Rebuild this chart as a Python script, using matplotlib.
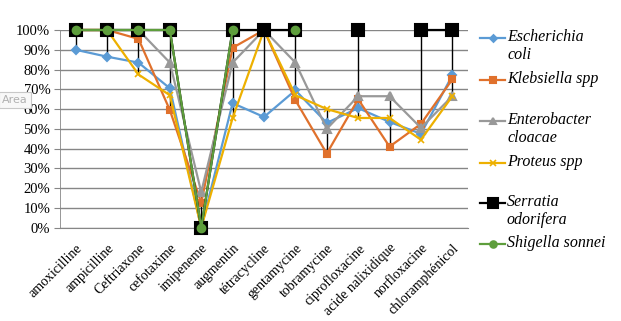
import numpy as np
import matplotlib.pyplot as plt
from matplotlib.lines import Line2D
from matplotlib.ticker import PercentFormatter

nan = np.nan
antibiotics = ['amoxicilline', 'ampicilline', 'Ceftriaxone', 'cefotaxime', 'imipeneme',
               'augmentin', 'tétracycline', 'gentamycine', 'tobramycine', 'ciprofloxacine',
               'acide nalixidique', 'norfloxacine', 'chloramphénicol']

e_coli       = [90, 86.5, 83.5, 70.5, 0, 63, 56, 69.5, 53, 60.5, 53.5, 47.5, 77]
klebsiella   = [100, 100, 95.5, 59.5, 12.5, 91, 100, 64.5, 37.5, 65, 41, 52.5, 75]
enterobacter = [100, 100, 100, 83.5, 18, 83.5, 100, 83.5, 50, 66.5, 66.5, 50.5, 66.5]
proteus      = [100, 100, 77.5, 67, 0, 55.5, 100, 67, 60, 55.5, 55.5, 44.5, 66.5]
serratia     = [100, 100, 100, 100, 0, 100, 100, 100, nan, 100, nan, 100, 100]
shigella     = [100, 100, 100, 100, 0, 100, nan, 100, nan, nan, nan, nan, nan]

series = [
    ('Escherichia\ncoli', e_coli, '#5B9BD5', 'D', 4),
    ('Klebsiella spp', klebsiella, '#E0712C', 's', 5),
    ('Enterobacter\ncloacae', enterobacter, '#999999', '^', 5.5),
    ('Proteus spp', proteus, '#EDB000', 'x', 5),
    ('Serratia\nodorifera', serratia, '#000000', 's', 8.5),
    ('Shigella sonnei', shigella, '#5E9E3C', 'o', 5.5),
]

serif = 'Liberation Serif'
fig = plt.figure(figsize=(6.21, 3.21), dpi=100)
ax = fig.add_axes([60 / 621, 1 - 227.7 / 321, 408 / 621, 197.7 / 321])

x = np.arange(len(antibiotics))
vals = np.array([s[1] for s in series], dtype=float)
# high-low lines
ax.vlines(x, np.nanmin(vals, axis=0), np.nanmax(vals, axis=0), color='black', lw=1, zorder=2)

def marker_kw(m, c):
    if m == 'x':
        return dict(markeredgewidth=1.2)
    return dict(markeredgecolor=c, markeredgewidth=1.5, markerfacecolor=c)

for name, v, c, m, ms in series:
    l, = ax.plot(x, v, color=c, lw=1.6, marker=m, ms=ms, zorder=3,
                 clip_on=False, **marker_kw(m, c))
    l.set_solid_joinstyle('round')

ax.set_xlim(-0.5, len(antibiotics) - 0.5)
ax.set_ylim(0, 100)
ax.set_yticks(np.arange(0, 101, 10))
ax.yaxis.set_major_formatter(PercentFormatter(decimals=0))
ax.grid(axis='y', color='#868686', lw=1)
ax.set_axisbelow(True)
for s in ['top', 'right']:
    ax.spines[s].set_visible(False)
ax.spines['bottom'].set_color('#868686')
ax.spines['left'].set_color('#868686')
ax.spines['left'].set_linewidth(0.6)
ax.set_xticks(x)
ax.set_xticklabels(antibiotics, rotation=45, ha='right', rotation_mode='anchor',
                   fontfamily=serif, fontsize=10)
ax.tick_params(axis='x', length=0, pad=10)
ax.tick_params(axis='y', length=4, color='#868686', pad=3)
for lab in ax.get_yticklabels():
    lab.set_fontfamily(serif)
    lab.set_fontsize(10.5)

# legend on the right
rows = [38, 80, 121, 163, 203, 244]
for (name, v, c, m, ms), yy in zip(series, rows):
    yf = 1 - yy / 321
    fig.add_artist(Line2D([480 / 621, 505 / 621], [yf, yf], color=c, lw=1.6))
    fig.add_artist(Line2D([492.5 / 621], [yf], color=c, marker=m, ms=ms * 0.85,
                          **marker_kw(m, c)))
    fig.text(507 / 621, 1 - (yy - 9) / 321, name, fontfamily=serif, style='italic',
             fontsize=11.5, va='top', ha='left', linespacing=1.15)

fig.text(2 / 621, 1 - 100 / 321, 'Area', fontsize=8, color='#B0B0B0', va='center',
         bbox=dict(boxstyle='square,pad=0.25', fc='#F8F8F8', ec='#C8C8C8', lw=0.8))

fig.savefig('out.png', dpi=100)
